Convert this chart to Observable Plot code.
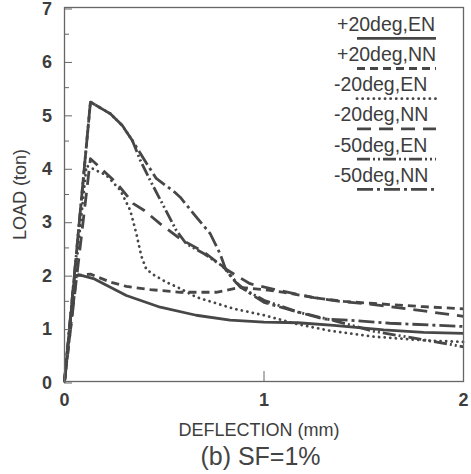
<!DOCTYPE html>
<html>
<head>
<meta charset="utf-8">
<script src="https://cdn.jsdelivr.net/npm/d3@7"></script>
<script src="https://cdn.jsdelivr.net/npm/@observablehq/plot@0.6"></script>
<style>
  body { margin: 0; background: #fff; }
  #wrap { position: relative; width: 471px; height: 474px; font-family: "Liberation Sans", Arial, Helvetica, sans-serif; color: #444; }
  #caption { position: absolute; left: 0; width: 471px; top: 443px; text-align: center; font-size: 25px; line-height: 26px; color: #444; padding-left: 50px; box-sizing: border-box; }
  #legend { position: absolute; left: 0; top: 0; pointer-events: none; }
</style>
</head>
<body>
<div id="wrap"></div>
<script>
// ---- data (deflection in mm, load in ton) ----
const seriesNames = ["+20deg,EN", "+20deg,NN", "-20deg,EN", "-20deg,NN", "-50deg,EN", "-50deg,NN"];

const p20EN_x = [0, 0.05, 0.07, 0.15, 0.31, 0.48, 0.66, 0.83, 1.0, 1.17, 1.35, 1.6, 1.8, 2.0];
const p20EN_y = [0, 1.95, 2.0, 1.92, 1.61, 1.39, 1.24, 1.15, 1.11, 1.10, 1.05, 0.965, 0.92, 0.90];

const p20NN_x = [0, 0.06, 0.13, 0.23, 0.31, 0.43, 0.58, 0.76, 0.88, 1.0, 1.1, 1.25, 1.4, 1.55, 1.8, 2.0];
const p20NN_y = [0, 1.98, 2.01, 1.86, 1.78, 1.72, 1.67, 1.67, 1.76, 1.72, 1.67, 1.57, 1.50, 1.46, 1.40, 1.36];

const m20EN_x = [0, 0.11, 0.21, 0.28, 0.33, 0.36, 0.385, 0.41, 0.45, 0.51, 0.58, 0.66, 0.85, 1.0, 1.17, 1.33, 1.55, 1.8, 2.0];
const m20EN_y = [0, 4.04, 3.86, 3.58, 3.20, 2.77, 2.35, 2.10, 1.99, 1.86, 1.74, 1.58, 1.36, 1.24, 1.07, 0.95, 0.84, 0.77, 0.74];

const m20NN_x = [0, 0.13, 0.26, 0.345, 0.40, 0.48, 0.58, 0.70, 0.81, 0.93, 1.08, 1.25, 1.38, 1.55, 1.8, 2.0];
const m20NN_y = [0, 4.17, 3.72, 3.33, 3.20, 2.95, 2.67, 2.42, 2.10, 1.83, 1.70, 1.57, 1.50, 1.44, 1.32, 1.22];

const m50EN_x = [0, 0.13, 0.23, 0.29, 0.34, 0.38, 0.43, 0.50, 0.56, 0.61, 0.70, 0.80, 0.88, 1.0, 1.17, 1.35, 1.55, 1.8, 2.0];
const m50EN_y = [0, 5.23, 5.01, 4.79, 4.51, 4.14, 3.76, 3.26, 2.83, 2.58, 2.39, 2.14, 1.77, 1.52, 1.30, 1.14, 0.94, 0.78, 0.65];

const m50NN_x = [0, 0.13, 0.23, 0.29, 0.34, 0.40, 0.46, 0.55, 0.58, 0.66, 0.73, 0.78, 0.81, 0.86, 0.91, 1.0, 1.17, 1.3, 1.42, 1.63, 2.0];
const m50NN_y = [0, 5.23, 5.01, 4.79, 4.51, 4.15, 3.80, 3.55, 3.45, 3.08, 2.77, 2.39, 2.08, 1.85, 1.70, 1.48, 1.30, 1.17, 1.15, 1.09, 1.03];

const xTicks = [0, 1, 2];
const yTicks = [0, 1, 2, 3, 4, 5, 6, 7];
const yMinorTicks = [0.5, 1.5, 2.5, 3.5, 4.5, 5.5, 6.5];

const xLabel = "DEFLECTION (mm)";
const yLabel = "LOAD (ton)";
const captionText = "(b) SF=1%";

// ---- styles ----
const ink = "#474747";
const dashes = [null, "8,5", "0.1,5.5", "14,8", "13,3,2,3,2,3", "16,4,3,4"];
const caps = ["butt", "butt", "round", "butt", "butt", "butt"];

const xs = [p20EN_x, p20NN_x, m20EN_x, m20NN_x, m50EN_x, m50NN_x];
const ys = [p20EN_y, p20NN_y, m20EN_y, m20NN_y, m50EN_y, m50NN_y];
const tables = xs.map((xa, i) => xa.map((x, j) => ({x, y: ys[i][j], s: seriesNames[i]})));

const font = '"Liberation Sans", Arial, Helvetica, sans-serif';

const lineMarks = tables.map((t, i) => Plot.line(t, {
  x: "x", y: "y", stroke: ink, strokeWidth: 2.8,
  strokeDasharray: dashes[i], strokeLinecap: caps[i], strokeLinejoin: "round"
}));

const fmt = d => String(d);

const chart = Plot.plot({
  width: 471, height: 437,
  marginLeft: 64, marginRight: 8, marginTop: 7, marginBottom: 56,
  style: {fontFamily: font, color: ink, background: "#fff", overflow: "visible"},
  x: {domain: [0, 2]},
  y: {domain: [0, 7]},
  marks: [
    ...lineMarks,
    Plot.frame({stroke: "#666", strokeWidth: 1.3}),
    Plot.axisY(yMinorTicks, {anchor: "left", tickSize: -5, tickFormat: () => "", label: null, stroke: "#666"}),
    Plot.axisY(yTicks, {anchor: "left", tickSize: -8, tickPadding: 20.5, tickFormat: fmt, fontSize: 18, fontWeight: "bold", fill: "#3d3d3d", stroke: "#666", label: null, dy: 1.5}),
    Plot.axisX(xTicks, {anchor: "bottom", tickSize: -10, tickPadding: 22, tickFormat: fmt, fontSize: 18, fontWeight: "bold", fill: "#3d3d3d", stroke: "#666", label: null}),
    Plot.text([yLabel], {text: d => d, frameAnchor: "left", rotate: -90, dx: -44, textAnchor: "middle", lineAnchor: "middle", fontSize: 18, fill: "#3d3d3d"}),
    Plot.text([xLabel], {text: d => d, frameAnchor: "bottom", dx: -5, dy: 54, textAnchor: "middle", lineAnchor: "bottom", fontSize: 18, fill: "#3d3d3d"})
  ]
});

const wrap = document.getElementById("wrap");
wrap.appendChild(chart);

// ---- legend overlay ----
const ns = "http://www.w3.org/2000/svg";
const leg = document.createElementNS(ns, "svg");
leg.setAttribute("id", "legend");
leg.setAttribute("width", 471);
leg.setAttribute("height", 474);
seriesNames.forEach((name, i) => {
  const rowY = 30.7 + 30.2 * i;
  const t = document.createElementNS(ns, "text");
  t.setAttribute("x", name.startsWith("+") ? 337 : 334);
  t.setAttribute("y", rowY);
  t.setAttribute("font-family", font);
  t.setAttribute("font-size", 19.5);
  t.setAttribute("fill", "#3d3d3d");
  t.textContent = name;
  leg.appendChild(t);
  const l = document.createElementNS(ns, "line");
  l.setAttribute("x1", 357); l.setAttribute("x2", 436);
  l.setAttribute("y1", rowY + 7.6); l.setAttribute("y2", rowY + 7.6);
  l.setAttribute("stroke", ink);
  l.setAttribute("stroke-width", 2.8);
  if (dashes[i]) l.setAttribute("stroke-dasharray", dashes[i]);
  l.setAttribute("stroke-linecap", caps[i]);
  leg.appendChild(l);
});
wrap.appendChild(leg);

const cap = document.createElement("div");
cap.id = "caption";
cap.textContent = captionText;
wrap.appendChild(cap);
</script>
</body>
</html>
